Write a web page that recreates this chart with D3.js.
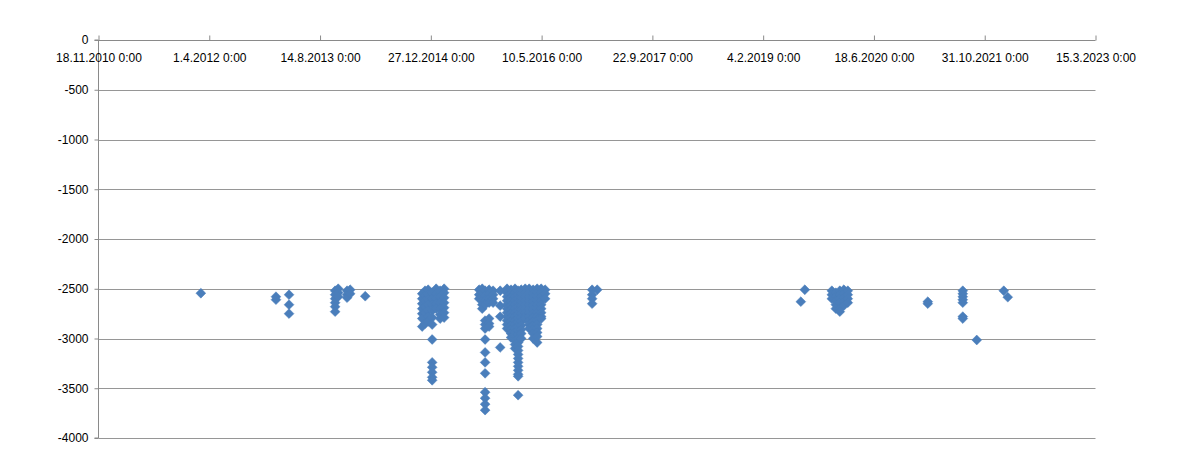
<!DOCTYPE html>
<html>
<head>
<meta charset="utf-8">
<script src="https://cdn.jsdelivr.net/npm/d3@7"></script>
<style>
  html, body { margin: 0; padding: 0; background: #fff; }
  svg { display: block; }
  text { font-family: "Liberation Sans", Arial, sans-serif; font-size: 12px; fill: #000; }
</style>
</head>
<body>
<svg id="chart" width="1182" height="455"></svg>
<script>
// ---- data ----
const xDomain = ["2010-11-18", "2023-03-15"];
const tickDates = ["2010-11-18","2012-04-01","2013-08-14","2014-12-27","2016-05-10",
                   "2017-09-22","2019-02-04","2020-06-18","2021-10-31","2023-03-15"];
const yTicks = [0, -500, -1000, -1500, -2000, -2500, -3000, -3500, -4000];

// each column: one date, list of values
const colDates = [
  "2012-02-23","2013-01-27","2013-03-27","2013-10-21","2013-11-04","2013-12-14","2013-12-28","2014-03-06",
  "2014-11-18","2014-12-01","2014-12-15","2015-01-02","2015-01-20","2015-02-07","2015-02-25",
  "2015-08-02","2015-08-16","2015-08-29","2015-09-16","2015-10-04","2015-11-05",
  "2015-12-06","2015-12-24","2016-01-11","2016-01-25","2016-02-08","2016-02-26",
  "2016-03-15","2016-04-02","2016-04-20","2016-05-08","2016-05-26",
  "2016-12-24","2017-01-16",
  "2019-07-24","2019-08-11","2019-12-11","2019-12-29","2020-01-16","2020-02-03","2020-02-21",
  "2021-02-16","2021-07-24","2021-09-25","2022-01-25","2022-02-12"
];
const colValues = [
  [-2545],
  [-2580, -2610],
  [-2560, -2660, -2750],
  [-2520, -2560, -2600, -2640, -2680, -2730],
  [-2500, -2540, -2580],
  [-2520, -2560, -2590],
  [-2510, -2550],
  [-2575],
  [-2550, -2600, -2650, -2700, -2750, -2800, -2880],
  [-2520, -2570, -2620, -2680, -2740, -2850],
  [-2510, -2560, -2610, -2660, -2720, -2780, -2830],
  [-2540, -2600, -2660, -2720, -2790, -2860, -3010, -3240, -3290, -3340, -3390, -3420],
  [-2500, -2550, -2600, -2650, -2700],
  [-2520, -2580, -2640, -2700, -2760, -2800],
  [-2500, -2540, -2590, -2640, -2690, -2740, -2790],
  [-2510, -2560, -2600],
  [-2500, -2540, -2580, -2620, -2660, -2700],
  [-2520, -2570, -2620, -2660, -2820, -2860, -2900, -3010, -3140, -3240, -3350, -3540, -3600, -3660, -3720],
  [-2510, -2550, -2600, -2640, -2800, -2850, -2880],
  [-2520, -2560, -2600, -2640],
  [-2520, -2670, -2780, -3090],
  [-2500, -2540, -2580, -2620, -2660, -2700, -2740, -2780, -2820, -2860, -2900],
  [-2510, -2550, -2590, -2630, -2670, -2710, -2750, -2790, -2830, -2870, -2910, -2950, -2990],
  [-2500, -2540, -2580, -2620, -2660, -2700, -2740, -2780, -2820, -2860, -2900, -2940, -2980, -3020, -3060, -3100],
  [-2520, -2560, -2600, -2640, -2680, -2720, -2760, -2800, -2840, -2880, -2920, -2960, -3000, -3040, -3080, -3120, -3160, -3200, -3240, -3280, -3320, -3360, -3380, -3570],
  [-2510, -2550, -2590, -2630, -2670, -2710, -2750, -2790, -2830, -2870, -2910, -2950, -3000],
  [-2500, -2540, -2580, -2620, -2660, -2700, -2740, -2780, -2800],
  [-2500, -2540, -2580, -2620, -2660, -2700, -2740, -2780, -2820, -2860, -2900],
  [-2510, -2550, -2590, -2630, -2670, -2710, -2750, -2790, -2830, -2870, -2910, -2950, -3000],
  [-2500, -2540, -2580, -2620, -2660, -2700, -2740, -2780, -2820, -2860, -2900, -2940, -2980, -3040],
  [-2500, -2540, -2580, -2620, -2660, -2700, -2740, -2780, -2800],
  [-2510, -2550, -2600],
  [-2510, -2560, -2600, -2650],
  [-2510],
  [-2630],
  [-2510],
  [-2520, -2560, -2600],
  [-2540, -2580, -2620, -2660, -2700],
  [-2520, -2560, -2600, -2640, -2700, -2730],
  [-2510, -2550, -2590, -2630, -2670],
  [-2520, -2560, -2600, -2640],
  [-2630, -2650],
  [-2520, -2550, -2580, -2610, -2640, -2780, -2800],
  [-3015],
  [-2520],
  [-2585]
];

// ---- chart ----
const parse = d3.utcParse("%Y-%m-%d");
const points = [];
colDates.forEach((d, i) => colValues[i].forEach(v => points.push({ date: parse(d), value: v })));

const svg = d3.select("#chart");
const mLeft = 98.5, mRight = 1095.5, mTop = 40, mBottom = 438;

const x = d3.scaleUtc().domain(xDomain.map(parse)).range([mLeft, mRight]);
const y = d3.scaleLinear().domain([-4000, 0]).range([mBottom, mTop]);

const gridColor = "#969696";
const axisColor = "#8a8a8a";

// gridlines
svg.append("g")
  .selectAll("line")
  .data(yTicks.filter(v => v !== 0))
  .join("line")
  .attr("x1", mLeft).attr("x2", mRight)
  .attr("y1", d => Math.round(y(d)) + 0.5).attr("y2", d => Math.round(y(d)) + 0.5)
  .attr("stroke", gridColor).attr("stroke-width", 1);

// y axis
const yAxis = svg.append("g")
  .attr("transform", `translate(${mLeft},0)`)
  .call(d3.axisLeft(y).tickValues(yTicks).tickSize(4).tickPadding(6).tickFormat(d => String(d)));
yAxis.selectAll("path,line").attr("stroke", axisColor);
yAxis.selectAll("text").style("font-size", "12px").attr("fill", "#000");
yAxis.select(".domain").attr("d", `M-4,${mTop}H0V${mBottom}H-4`);

// x axis at y = 0 (top), ticks pointing up, labels below
const xAxis = svg.append("g")
  .attr("transform", `translate(0,${Math.round(y(0)) + 0.5})`)
  .call(d3.axisTop(x).tickValues(tickDates.map(parse)).tickSize(5)
        .tickFormat(d3.utcFormat("%-d.%-m.%Y 0:00")));
xAxis.select(".domain").attr("d", `M${mLeft},0H${mRight}`);
xAxis.selectAll("path,line").attr("stroke", axisColor);
xAxis.selectAll("text")
  .attr("y", 21)
  .style("font-size", "12px")
  .attr("fill", "#000");

// markers
const diamond = d3.symbol(d3.symbolSquare, 48);
svg.append("g")
  .selectAll("path")
  .data(points)
  .join("path")
  .attr("d", diamond)
  .attr("transform", d => `translate(${x(d.date)},${y(d.value)}) rotate(45)`)
  .attr("fill", "#4a7ebb")
  .attr("stroke", "#4a7ebb")
  .attr("stroke-width", 0.5);
</script>
</body>
</html>
